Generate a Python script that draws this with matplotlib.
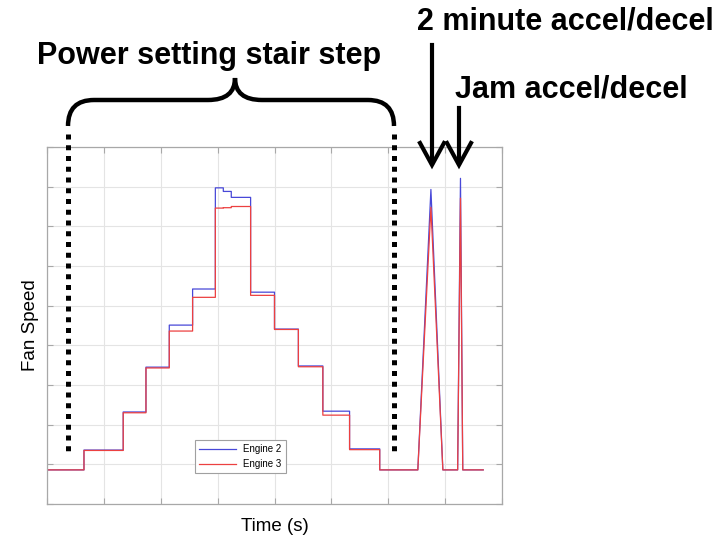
import numpy as np
import matplotlib
matplotlib.use("Agg")
import matplotlib.pyplot as plt
from matplotlib.transforms import Affine2D
from matplotlib.path import Path
from matplotlib.patches import PathPatch
from matplotlib.lines import Line2D

plt.rcParams['font.family'] = ['Liberation Sans', 'DejaVu Sans']

# stair step section: start time of each step and fan speed level
step_start = [0.00, 0.65, 1.34, 1.74, 2.15, 2.56, 2.96, 3.10, 3.24, 3.58, 4.00, 4.42, 4.85, 5.32, 5.85]
eng2_steps = [0.86, 1.36, 2.32, 3.45, 4.51, 5.42, 7.97, 7.88, 7.73, 5.34, 4.41, 3.48, 2.34, 1.39, 0.86]
eng3_steps = [0.86, 1.35, 2.30, 3.43, 4.36, 5.21, 7.46, 7.47, 7.50, 5.26, 4.40, 3.46, 2.24, 1.37, 0.86]

# 2 minute accel/decel and jam accel/decel
accel_t = [6.52, 6.75, 6.96, 7.22, 7.27, 7.31, 7.67]
eng2_accel = [0.86, 7.93, 0.86, 0.86, 8.21, 0.86, 0.86]
eng3_accel = [0.86, 7.48, 0.86, 0.86, 7.71, 0.86, 0.86]


def build(levels, accel):
    xs, ys = [], []
    ends = step_start[1:] + [accel_t[0]]
    for t0, t1, v in zip(step_start, ends, levels):
        xs += [t0, t1]
        ys += [v, v]
    return xs + accel_t[1:], ys + accel[1:]


W, H = 720, 543
fig = plt.figure(figsize=(W / 100, H / 100), dpi=100)
ax = fig.add_axes([47 / W, 1 - 504 / H, 455 / W, 357 / H])

x2, y2 = build(eng2_steps, eng2_accel)
x3, y3 = build(eng3_steps, eng3_accel)
ax.plot(x2, y2, color='#4848d8', lw=0.9, label='Engine 2')
ax.plot(x3, y3, color='#ec4040', lw=0.9, label='Engine 3')

ax.set_xlim(0, 8)
ax.set_ylim(0, 9)
ax.set_xticks(range(0, 9))
ax.set_yticks(range(0, 10))
ax.set_xticklabels([])
ax.set_yticklabels([])
ax.tick_params(direction='in', length=4, color='#a8a8a8', top=True, right=True)
ax.grid(True, color='#e4e4e4', lw=0.8)
for s in ax.spines.values():
    s.set_color('#a8a8a8')
    s.set_linewidth(0.9)

ax.set_xlabel('Time (s)', fontsize=13.5, labelpad=6.5)
ax.set_ylabel('Fan Speed', fontsize=13.5, labelpad=2)

leg = ax.legend(loc='lower left', bbox_to_anchor=(0.325, 0.087), fontsize=7,
                handlelength=3.8, borderaxespad=0, fancybox=False,
                frameon=True, edgecolor='#a0a0a0', framealpha=1)
leg.get_frame().set_linewidth(0.8)

# annotations in figure pixel coordinates
pix = Affine2D().scale(1 / W, -1 / H).translate(0, 1) + fig.transFigure

fig.text(37, 64, 'Power setting stair step', transform=pix, fontsize=22,
         fontweight='bold', ha='left', va='baseline')
fig.text(417, 30, '2 minute accel/decel', transform=pix, fontsize=22,
         fontweight='bold', ha='left', va='baseline')
fig.text(455, 97, 'Jam accel/decel', transform=pix, fontsize=22,
         fontweight='bold', ha='left', va='baseline')

# curly brace
verts = [(68, 126), (68, 100), (94, 100),
         (208, 100),
         (235, 100), (235, 78),
         (235, 100), (262, 100),
         (368, 100),
         (394, 100), (394, 126)]
codes = [Path.MOVETO, Path.CURVE3, Path.CURVE3,
         Path.LINETO,
         Path.CURVE3, Path.CURVE3,
         Path.CURVE3, Path.CURVE3,
         Path.LINETO,
         Path.CURVE3, Path.CURVE3]
fig.patches.append(PathPatch(Path(verts, codes), transform=pix, fill=False,
                             lw=3.2, edgecolor='black', capstyle='butt'))

# dotted verticals
for xp in (68, 394):
    fig.lines.append(Line2D([xp, xp], [134, 452], transform=pix, color='black',
                            lw=3.6, linestyle=(0, (1, 1.15)), dash_capstyle='butt'))

# arrows
for xp, ytop in ((432, 45), (459, 108)):
    fig.lines.append(Line2D([xp, xp], [ytop, 163], transform=pix, color='black', lw=3))
    fig.lines.append(Line2D([xp - 12, xp, xp + 12], [143, 165, 143], transform=pix,
                            color='black', lw=3, solid_joinstyle='miter'))

fig.savefig('out.png', dpi=100)
